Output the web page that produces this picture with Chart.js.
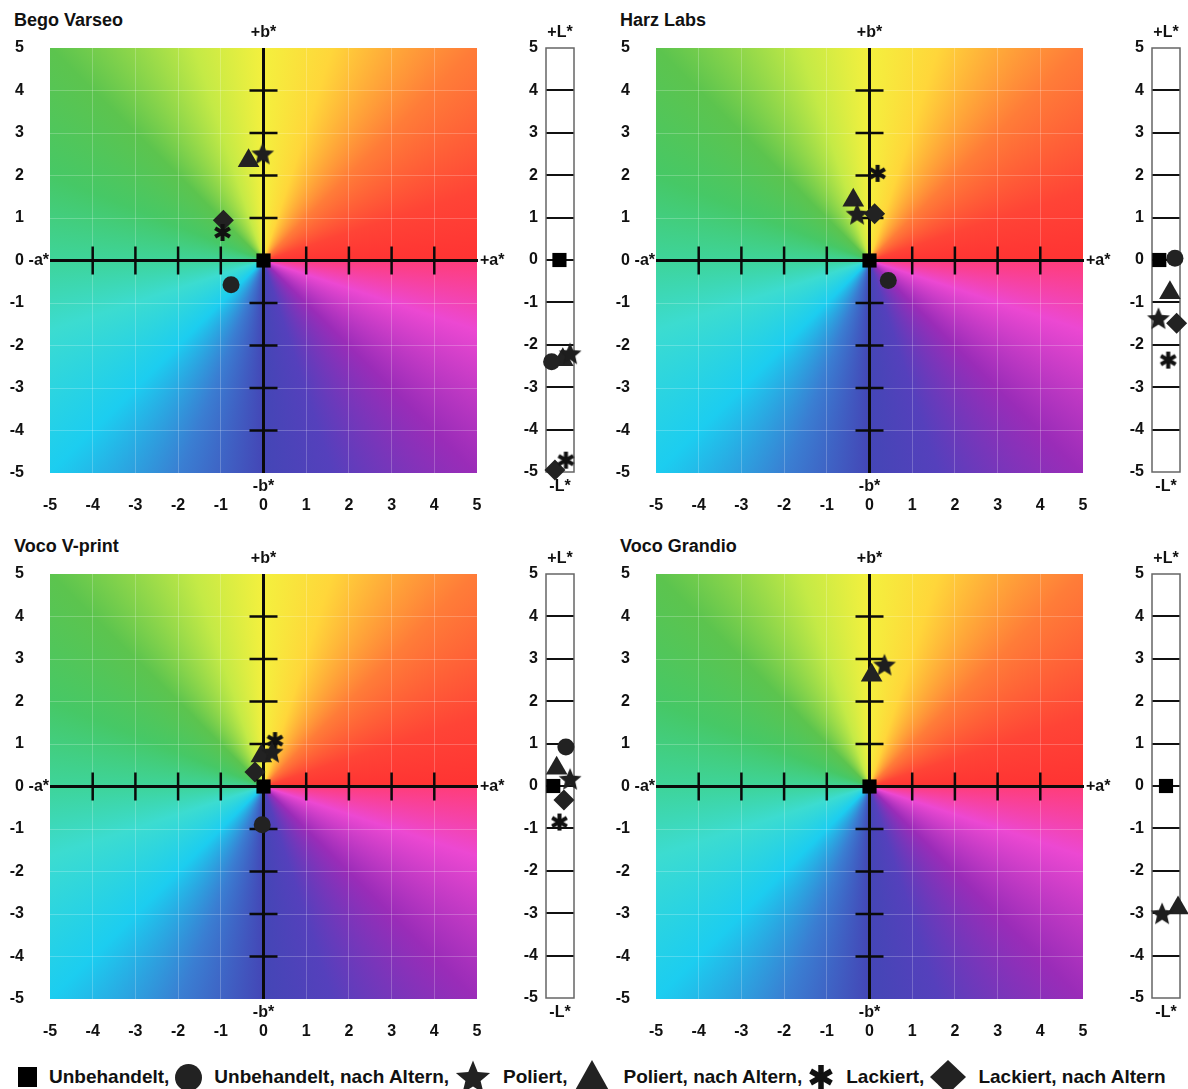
<!DOCTYPE html>
<html lang="de">
<head>
<meta charset="UTF-8">
<title>Farbveränderung ΔL*, Δa*, Δb*</title>
<script src="https://cdn.jsdelivr.net/npm/chart.js"></script>
<style>
  html, body { margin: 0; background: #fff; overflow: hidden; }
  #wrap { position: relative; width: 1188px; height: 1089px; overflow: hidden;
          font-family: "Liberation Sans", Arial, sans-serif; color: #111; }
  #wrap canvas { position: absolute; }
  .titel { position: absolute; font-weight: bold; font-size: 18px; line-height: 20px; }
  #legende { position: absolute; left: 18px; top: 1060px; height: 34px; display: flex;
             align-items: center; font-weight: bold; font-size: 19px; white-space: nowrap; }
  #legende svg { display: block; }
  #legende span { margin: 0 6px 0 12px; }
</style>
</head>
<body>
<div id="wrap"><div id="legende"></div></div>

<script>
  const proben = ['Bego Varseo', 'Harz Labs', 'Voco V-print', 'Voco Grandio'];
  const gruppen = ['Unbehandelt', 'Unbehandelt, nach Altern', 'Poliert',
                   'Poliert, nach Altern', 'Lackiert', 'Lackiert, nach Altern'];
  const skala = [-5, -4, -3, -2, -1, 0, 1, 2, 3, 4, 5];

  // Werte je Probe, Reihenfolge wie gruppen (null = nicht gemessen)
  const deltaA = [
    [0, -0.76, -0.02, -0.35, -0.96, -0.94],
    [0, 0.44, -0.29, -0.38, 0.19, 0.12],
    [0, -0.03, 0.2, -0.05, 0.27, -0.2],
    [0, null, 0.35, 0.05, null, null]
  ];
  const deltaB = [
    [0, -0.57, 2.52, 2.35, 0.66, 0.95],
    [0, -0.47, 1.1, 1.42, 2.05, 1.1],
    [0, -0.9, 0.82, 0.72, 1.08, 0.34],
    [0, null, 2.87, 2.62, null, null]
  ];
  const deltaL = [
    [0, -2.4, -2.2, -2.35, -4.72, -4.95],
    [0, 0.04, -1.37, -0.77, -2.36, -1.49],
    [0, 0.92, 0.17, 0.42, -0.85, -0.33],
    [0, null, -3.0, -2.88, null, null]
  ];
  // seitliche Lage im L*-Streifen (0 links, 1 rechts), nur zur Lesbarkeit
  const lageL = [
    [0.48, 0.2, 0.86, 0.6, 0.71, 0.32],
    [0.26, 0.82, 0.23, 0.64, 0.58, 0.88],
    [0.26, 0.71, 0.86, 0.38, 0.48, 0.64],
    [0.5, null, 0.36, 0.93, null, null]
  ];

  const schrift = { family: '"Liberation Sans", Arial, sans-serif', size: 16, weight: 'bold' };
  const fontStr = 'bold 16px "Liberation Sans", Arial, sans-serif';

  function sternBild(r, farbe) {
    const c = document.createElement('canvas');
    const s = Math.ceil(r * 2 + 2);
    c.width = c.height = s;
    const g = c.getContext('2d');
    g.translate(s / 2, s / 2 + r * 0.1);
    g.beginPath();
    for (let k = 0; k < 10; k++) {
      const rr = k % 2 ? r * 0.45 : r;
      const w = -Math.PI / 2 + k * Math.PI / 5;
      g.lineTo(Math.cos(w) * rr, Math.sin(w) * rr);
    }
    g.closePath();
    g.fillStyle = farbe;
    g.fill();
    return c;
  }

  function sternchenBild(r, farbe) {
    const c = document.createElement('canvas');
    const s = Math.ceil(r * 2 + 4);
    c.width = c.height = s;
    const g = c.getContext('2d');
    g.translate(s / 2, s / 2);
    g.strokeStyle = farbe;
    g.lineWidth = r * 0.48;
    for (let k = 0; k < 3; k++) {
      const w = Math.PI / 2 + k * Math.PI / 3;
      g.beginPath();
      g.moveTo(-Math.cos(w) * r, -Math.sin(w) * r);
      g.lineTo(Math.cos(w) * r, Math.sin(w) * r);
      g.stroke();
    }
    return c;
  }

  const symbole = ['rect', 'circle', sternBild(12, '#1e1e1e'), 'triangle', sternchenBild(8.5, '#111'), 'rectRot'];
  const radien = [10, 8.5, 12, 12.5, 8.5, 10.5];
  const farben = ['#000', '#222', '#1e1e1e', '#222', '#111', '#222'];

  function datensaetze(xs, ys) {
    return gruppen.map((g, i) => ({
      label: g,
      data: ys[i] === null ? [] : [{ x: xs[i], y: ys[i] }],
      pointStyle: symbole[i],
      pointRadius: radien[i],
      pointHoverRadius: radien[i],
      backgroundColor: farben[i],
      borderWidth: 0,
      clip: false
    }));
  }

  // Farbkreis + Achsenkreuz
  const farbkreis = {
    id: 'farbkreis',
    beforeDraw(chart) {
      const { ctx, chartArea: a, scales: { x, y } } = chart;
      const cx = x.getPixelForValue(0), cy = y.getPixelForValue(0);
      const g = ctx.createConicGradient(0, cx, cy);
      [[0, '#ff3d7a'], [0.05, '#ec48d2'], [0.125, '#9a2cb8'], [0.2, '#5540bc'],
       [0.25, '#4446b6'], [0.31, '#3a7ed2'], [0.375, '#1ccdf0'], [0.45, '#3cdcd0'],
       [0.5, '#3ed49a'], [0.56, '#46c866'], [0.625, '#5cc44e'], [0.7, '#c4ea46'],
       [0.75, '#f4f03e'], [0.8, '#ffd63a'], [0.875, '#ff7c38'], [0.95, '#ff4436'],
       [1, '#ff3333']].forEach(([t, c]) => g.addColorStop(t, c));
      ctx.save();
      ctx.fillStyle = g;
      ctx.fillRect(a.left, a.top, a.width, a.height);
      ctx.restore();
    },
    beforeDatasetsDraw(chart) {
      const { ctx, chartArea: a, scales: { x, y } } = chart;
      const cx = x.getPixelForValue(0), cy = y.getPixelForValue(0);
      ctx.save();
      ctx.strokeStyle = '#0a0a0a';
      ctx.lineWidth = 3;
      ctx.beginPath();
      ctx.moveTo(a.left, cy); ctx.lineTo(a.right + 1, cy);
      ctx.moveTo(cx, a.top); ctx.lineTo(cx, a.bottom);
      ctx.stroke();
      ctx.lineWidth = 2.5;
      ctx.beginPath();
      skala.filter(v => v !== 0 && Math.abs(v) < 5).forEach(v => {
        const px = x.getPixelForValue(v), py = y.getPixelForValue(v);
        ctx.moveTo(px, cy - 14); ctx.lineTo(px, cy + 14);
        ctx.moveTo(cx - 14, py); ctx.lineTo(cx + 14, py);
      });
      ctx.stroke();
      ctx.fillStyle = '#111';
      ctx.font = fontStr;
      ctx.textBaseline = 'middle';
      ctx.textAlign = 'center';
      ctx.fillText('+b*', cx, a.top - 15);
      ctx.fillText('-b*', cx, a.bottom + 14);
      ctx.textAlign = 'right';
      ctx.fillText('-a*', a.left - 1, cy);
      ctx.textAlign = 'left';
      ctx.fillText('+a*', a.right + 3, cy);
      ctx.restore();
    }
  };

  const streifen = {
    id: 'streifen',
    beforeDatasetsDraw(chart) {
      const { ctx, chartArea: a } = chart;
      ctx.save();
      ctx.strokeStyle = '#666';
      ctx.lineWidth = 1.5;
      ctx.strokeRect(a.left, a.top, a.width, a.height);
      ctx.fillStyle = '#111';
      ctx.font = fontStr;
      ctx.textAlign = 'center';
      ctx.textBaseline = 'middle';
      const mx = (a.left + a.right) / 2;
      ctx.fillText('+L*', mx, a.top - 15);
      ctx.fillText('-L*', mx, a.bottom + 15);
      ctx.restore();
    }
  };

  const grundOptionen = {
    responsive: false,
    animation: false,
    devicePixelRatio: 1,
    plugins: { legend: { display: false }, tooltip: { enabled: false } },
    events: []
  };

  const panelLage = [[0, 0], [606, 0], [0, 526], [606, 526]];
  const wrap = document.getElementById('wrap');

  function neueLeinwand(l, t, w, h) {
    const c = document.createElement('canvas');
    c.width = w; c.height = h;
    c.style.left = l + 'px'; c.style.top = t + 'px';
    wrap.appendChild(c);
    return c;
  }

  proben.forEach((name, p) => {
    const [dx, dy] = panelLage[p];
    const t = document.createElement('div');
    t.className = 'titel';
    t.style.left = (dx + 14) + 'px';
    t.style.top = (dy + 10) + 'px';
    t.textContent = name;
    wrap.appendChild(t);

    new Chart(neueLeinwand(dx, dy, 525, 520), {
      type: 'scatter',
      data: { datasets: datensaetze(deltaA[p], deltaB[p]) },
      options: {
        ...grundOptionen,
        layout: { padding: { top: 48, right: 48, left: 0, bottom: 0 } },
        scales: {
          x: {
            type: 'linear', min: -5, max: 5,
            afterFit: s => { s.height = 47; },
            ticks: { stepSize: 1, autoSkip: false, padding: 23, color: '#111', font: schrift, maxRotation: 0 },
            grid: { drawTicks: false, color: c => Math.abs(c.tick.value) === 5 ? 'rgba(0,0,0,0)' : 'rgba(255,255,255,0.22)' },
            border: { display: false }
          },
          y: {
            type: 'linear', min: -5, max: 5,
            afterFit: s => { s.width = 50; },
            ticks: { stepSize: 1, autoSkip: false, padding: 26, color: '#111', font: schrift },
            grid: { drawTicks: false, color: c => Math.abs(c.tick.value) === 5 ? 'rgba(0,0,0,0)' : 'rgba(255,255,255,0.22)' },
            border: { display: false }
          }
        }
      },
      plugins: [farbkreis]
    });

    new Chart(neueLeinwand(dx + 500, dy, 88, 520), {
      type: 'scatter',
      data: { datasets: datensaetze(lageL[p], deltaL[p]) },
      options: {
        ...grundOptionen,
        layout: { padding: { top: 48, right: 14, left: 0, bottom: 48 } },
        scales: {
          x: { type: 'linear', min: 0, max: 1, display: false },
          y: {
            type: 'linear', min: -5, max: 5,
            afterFit: s => { s.width = 46; },
            ticks: { stepSize: 1, autoSkip: false, padding: 8, color: '#111', font: schrift },
            grid: { drawTicks: false, lineWidth: 2, color: c => Math.abs(c.tick.value) === 5 ? 'rgba(0,0,0,0)' : '#111' },
            border: { display: false }
          }
        }
      },
      plugins: [streifen]
    });
  });

  // Legende
  function sternPunkte(cx, cy, r, ri) {
    const pts = [];
    for (let k = 0; k < 10; k++) {
      const rr = k % 2 ? ri : r;
      const w = -Math.PI / 2 + k * Math.PI / 5;
      pts.push((cx + Math.cos(w) * rr).toFixed(1) + ',' + (cy + Math.sin(w) * rr).toFixed(1));
    }
    return pts.join(' ');
  }
  const legendeSymbole = [
    '<svg width="19" height="20"><rect width="19" height="20" fill="#000"/></svg>',
    '<svg width="27" height="27"><circle cx="13.5" cy="13.5" r="13.5" fill="#222"/></svg>',
    '<svg width="36" height="34"><polygon points="' + sternPunkte(18, 18.5, 18, 8) + '" fill="#222"/></svg>',
    '<svg width="38" height="34"><polygon points="19,0 38,34 0,34" fill="#222"/></svg>',
    '<svg width="26" height="26"><g stroke="#111" stroke-width="5.5"><line x1="13" y1="1" x2="13" y2="25"/><line x1="2.6" y1="7" x2="23.4" y2="19"/><line x1="2.6" y1="19" x2="23.4" y2="7"/></g></svg>',
    '<svg width="36" height="34"><polygon points="18,0 36,17 18,34 0,17" fill="#222"/></svg>'
  ];
  const legende = document.getElementById('legende');
  gruppen.forEach((g, i) => {
    legende.insertAdjacentHTML('beforeend', legendeSymbole[i]);
    const s = document.createElement('span');
    s.textContent = g + (i < gruppen.length - 1 ? ',' : '');
    legende.appendChild(s);
  });
</script>
</body>
</html>
